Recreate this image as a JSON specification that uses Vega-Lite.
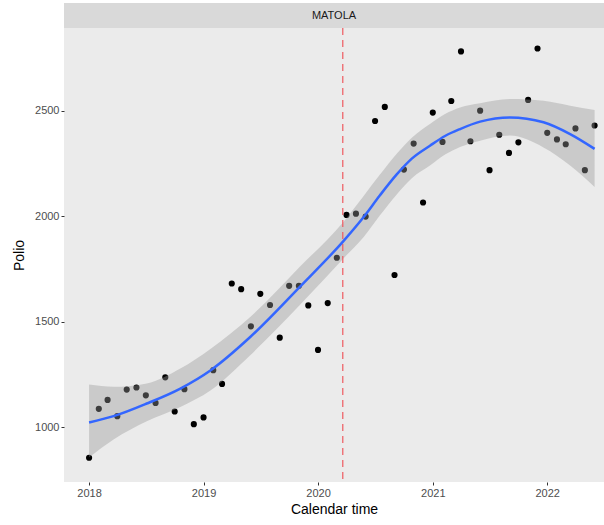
{
  "$schema": "https://vega.github.io/schema/vega-lite/v6.json",
  "background": "white",
  "padding": {"left": 12, "top": 3, "right": 0, "bottom": 2},
  "bounds": "flush",
  "spacing": 0,
  "config": {
    "font": "Liberation Sans",
    "view": {"stroke": null},
    "axis": {
      "grid": false, "domain": false, "tickColor": "#333333", "tickSize": 3,
      "labelColor": "#4D4D4D", "labelFontSize": 11, "labelFont": "Liberation Sans",
      "titleFontSize": 14, "titleFontWeight": "normal", "titleColor": "#000000", "titleFont": "Liberation Sans",
      "labelPadding": 2
    },
    "axisX": {"titlePadding": 4},
    "axisY": {"titlePadding": 8}
  },
  "datasets": {
    "strip": [{"site": "MATOLA"}],
    "events": [{"date": "2020-03-20"}],
    "points": [
      {"date": "2018-01-01", "polio": 855}, {"date": "2018-02-01", "polio": 1087}, {"date": "2018-03-01", "polio": 1129},
      {"date": "2018-04-01", "polio": 1052}, {"date": "2018-05-01", "polio": 1178}, {"date": "2018-06-01", "polio": 1188},
      {"date": "2018-07-01", "polio": 1151}, {"date": "2018-08-01", "polio": 1115}, {"date": "2018-09-01", "polio": 1236},
      {"date": "2018-10-01", "polio": 1074}, {"date": "2018-11-01", "polio": 1180}, {"date": "2018-12-01", "polio": 1014},
      {"date": "2019-01-01", "polio": 1046}, {"date": "2019-02-01", "polio": 1270}, {"date": "2019-03-01", "polio": 1205},
      {"date": "2019-04-01", "polio": 1681}, {"date": "2019-05-01", "polio": 1654}, {"date": "2019-06-01", "polio": 1478},
      {"date": "2019-07-01", "polio": 1632}, {"date": "2019-08-01", "polio": 1579}, {"date": "2019-09-01", "polio": 1424},
      {"date": "2019-10-01", "polio": 1670}, {"date": "2019-11-01", "polio": 1670}, {"date": "2019-12-01", "polio": 1577},
      {"date": "2020-01-01", "polio": 1366}, {"date": "2020-02-01", "polio": 1588}, {"date": "2020-03-01", "polio": 1803},
      {"date": "2020-04-01", "polio": 2006}, {"date": "2020-05-01", "polio": 2012}, {"date": "2020-06-01", "polio": 1998},
      {"date": "2020-07-01", "polio": 2451}, {"date": "2020-08-01", "polio": 2518}, {"date": "2020-09-01", "polio": 1721},
      {"date": "2020-10-01", "polio": 2221}, {"date": "2020-11-01", "polio": 2344}, {"date": "2020-12-01", "polio": 2065},
      {"date": "2021-01-01", "polio": 2491}, {"date": "2021-02-01", "polio": 2352}, {"date": "2021-03-01", "polio": 2546},
      {"date": "2021-04-01", "polio": 2781}, {"date": "2021-05-01", "polio": 2355}, {"date": "2021-06-01", "polio": 2500},
      {"date": "2021-07-01", "polio": 2218}, {"date": "2021-08-01", "polio": 2386}, {"date": "2021-09-01", "polio": 2300},
      {"date": "2021-10-01", "polio": 2350}, {"date": "2021-11-01", "polio": 2551}, {"date": "2021-12-01", "polio": 2795},
      {"date": "2022-01-01", "polio": 2395}, {"date": "2022-02-01", "polio": 2364}, {"date": "2022-03-01", "polio": 2341},
      {"date": "2022-04-01", "polio": 2416}, {"date": "2022-05-01", "polio": 2218}, {"date": "2022-06-01", "polio": 2430}
    ],
    "smooth": [
      {"date": "2018-01-01", "fit": 1022, "lo": 857, "hi": 1202},
      {"date": "2018-03-20", "fit": 1052, "lo": 942, "hi": 1191},
      {"date": "2018-07-04", "fit": 1112, "lo": 1028, "hi": 1207},
      {"date": "2018-10-19", "fit": 1183, "lo": 1096, "hi": 1278},
      {"date": "2019-01-24", "fit": 1270, "lo": 1175, "hi": 1372},
      {"date": "2019-05-29", "fit": 1426, "lo": 1340, "hi": 1521},
      {"date": "2019-11-04", "fit": 1665, "lo": 1579, "hi": 1760},
      {"date": "2020-03-22", "fit": 1882, "lo": 1800, "hi": 1973},
      {"date": "2020-05-25", "fit": 1995, "lo": 1900, "hi": 2095},
      {"date": "2020-07-16", "fit": 2098, "lo": 2003, "hi": 2196},
      {"date": "2020-09-08", "fit": 2198, "lo": 2103, "hi": 2296},
      {"date": "2020-10-27", "fit": 2274, "lo": 2181, "hi": 2373},
      {"date": "2020-12-23", "fit": 2334, "lo": 2240, "hi": 2437},
      {"date": "2021-02-09", "fit": 2380, "lo": 2292, "hi": 2484},
      {"date": "2021-03-29", "fit": 2413, "lo": 2328, "hi": 2515},
      {"date": "2021-06-01", "fit": 2448, "lo": 2358, "hi": 2535},
      {"date": "2021-09-04", "fit": 2468, "lo": 2382, "hi": 2555},
      {"date": "2021-12-20", "fit": 2445, "lo": 2326, "hi": 2547},
      {"date": "2022-03-15", "fit": 2389, "lo": 2240, "hi": 2524},
      {"date": "2022-06-01", "fit": 2319, "lo": 2138, "hi": 2503}
    ]
  },
  "vconcat": [
    {
      "width": 540, "height": 25,
      "view": {"fill": "#D9D9D9", "stroke": null},
      "data": {"name": "strip"},
      "mark": {"type": "text", "fontSize": 11, "color": "#1A1A1A", "font": "Liberation Sans"},
      "encoding": {"text": {"field": "site", "type": "nominal"}}
    },
    {
      "width": 540, "height": 454,
      "view": {"fill": "#EBEBEB", "stroke": null},
      "layer": [
        {
          "data": {"name": "points"},
          "mark": {"type": "point", "filled": true, "color": "#000000", "opacity": 1, "size": 38},
          "encoding": {
            "x": {"field": "date", "type": "temporal", "title": "Calendar time",
                  "scale": {"type": "utc", "domain": [{"year": 2017, "month": 10, "date": 13, "utc": true}, {"year": 2022, "month": 7, "date": 1, "utc": true}], "nice": false},
                  "axis": {"format": "%Y", "values": [{"year": 2018, "utc": true}, {"year": 2019, "utc": true}, {"year": 2020, "utc": true}, {"year": 2021, "utc": true}, {"year": 2022, "utc": true}]}},
            "y": {"field": "polio", "type": "quantitative", "title": "Polio",
                  "scale": {"domain": [740, 2892], "nice": false, "zero": false},
                  "axis": {"values": [1000, 1500, 2000, 2500], "format": "d"}}
          }
        },
        {
          "data": {"name": "smooth"},
          "mark": {"type": "area", "color": "#999999", "opacity": 0.4, "interpolate": "monotone"},
          "encoding": {
            "x": {"field": "date", "type": "temporal", "title": "Calendar time"},
            "y": {"field": "lo", "type": "quantitative", "title": "Polio"},
            "y2": {"field": "hi"}
          }
        },
        {
          "data": {"name": "events"},
          "mark": {"type": "rule", "color": "#EE5A60", "strokeDash": [7, 5], "strokeWidth": 1.2},
          "encoding": {
            "x": {"field": "date", "type": "temporal", "title": "Calendar time"}
          }
        },
        {
          "data": {"name": "smooth"},
          "mark": {"type": "line", "color": "#3366FF", "strokeWidth": 2.5, "interpolate": "monotone"},
          "encoding": {
            "x": {"field": "date", "type": "temporal", "title": "Calendar time"},
            "y": {"field": "fit", "type": "quantitative", "title": "Polio"}
          }
        }
      ]
    }
  ]
}
